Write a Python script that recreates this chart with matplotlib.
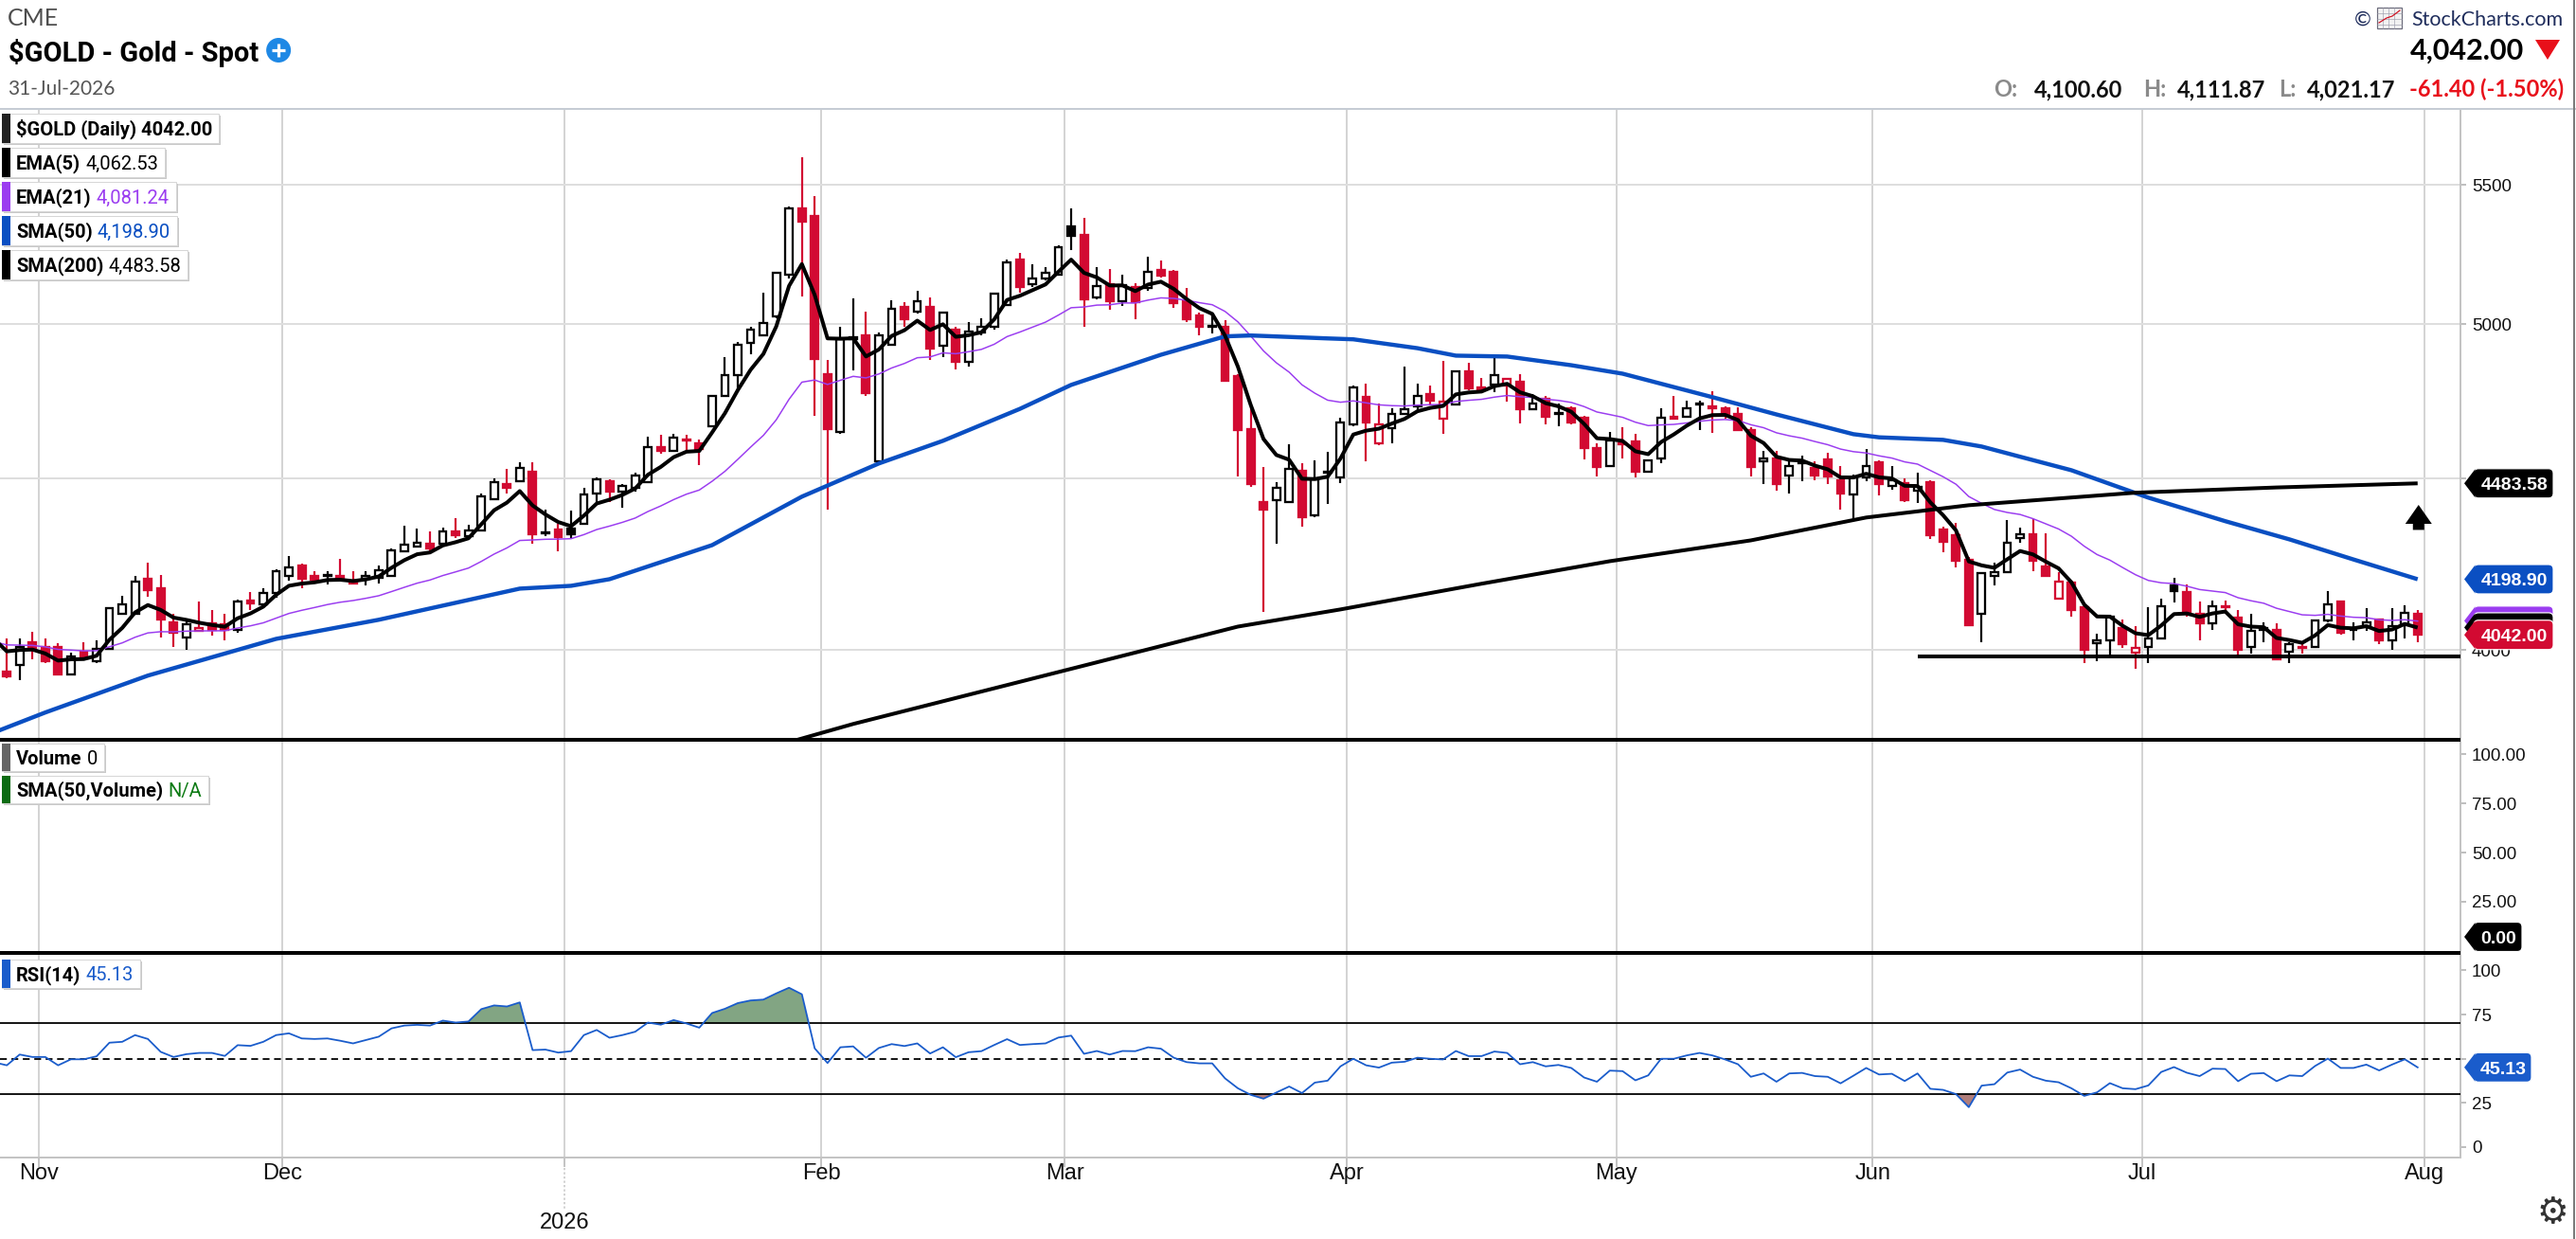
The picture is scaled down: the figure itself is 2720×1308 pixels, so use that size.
import numpy as np
import matplotlib
matplotlib.use("Agg")
import matplotlib.pyplot as plt
from matplotlib.patches import Rectangle, Polygon, FancyBboxPatch, Circle
from matplotlib.ticker import NullLocator, FixedLocator, FixedFormatter

# ---------------------------------------------------------------- data
month_labels = ["Nov", "Dec", "2026", "Feb", "Mar", "Apr", "May", "Jun", "Jul", "Aug"]
bars_per_month = [3, 19, 22, 20, 19, 22, 21, 20, 21, 22]   # Oct(partial) .. Jul

opens = [3941,3959,4021,4008,4008,3933,3997,3969,4003,4102,
         4102,4199,4172,4076,4036,4052,4073,4071,4057,4137,
         4127,4159,4208,4238,4208,4208,4208,4191,4199,4202,
         4208,4279,4295,4301,4301,4338,4324,4341,4434,4480,
         4489,4518,4332,4344,4346,4360,4452,4489,4457,4471,
         4486,4595,4583,4619,4607,4661,4759,4827,4935,4960,
         5025,5170,5413,5382,4830,4643,4948,4961,4553,4928,
         5058,5041,5058,4925,4980,4871,4970,4992,5064,5224,
         5137,5157,5173,5347,5316,5091,5137,5077,5127,5124,
         5187,5180,5077,5028,4992,4989,4824,4652,4428,4431,
         4428,4521,4386,4515,4501,4667,4756,4607,4655,4703,
         4725,4765,4685,4731,4840,4787,4796,4793,4805,4716,
         4750,4703,4719,4688,4592,4536,4607,4613,4518,4562,
         4694,4694,4731,4725,4719,4703,4649,4553,4562,4507,
         4547,4530,4559,4492,4449,4501,4550,4477,4483,4460,
         4486,4344,4326,4256,4100,4208,4218,4318,4329,4235,
         4143,4189,4118,4018,4026,4060,3992,4010,4031,4180,
         4162,4100,4073,4121,4089,4008,4057,4057,3995,4008,
         4010,4081,4135,4055,4065,4084,4026,4071,4100.60]
highs = [4031,4031,4050,4031,4018,3992,4023,4028,4118,4151,
         4208,4248,4210,4100,4084,4135,4110,4102,4140,4162,
         4172,4227,4265,4243,4221,4221,4259,4221,4221,4238,
         4287,4355,4346,4338,4349,4377,4358,4452,4498,4527,
         4550,4550,4403,4360,4400,4469,4501,4495,4480,4515,
         4628,4634,4637,4634,4619,4762,4887,4938,4989,5107,
         5183,5420,5606,5456,4880,4989,5087,5041,4970,5081,
         5074,5114,5091,5044,4992,5008,5021,5107,5227,5248,
         5210,5200,5275,5413,5378,5200,5193,5173,5140,5234,
         5221,5187,5124,5038,5038,5012,4830,4728,4533,4486,
         4604,4547,4556,4580,4688,4793,4799,4734,4719,4855,
         4799,4793,4874,4843,4868,4818,4887,4818,4830,4765,
         4759,4734,4725,4697,4607,4643,4658,4637,4559,4719,
         4759,4746,4746,4775,4725,4722,4658,4583,4583,4559,
         4568,4553,4577,4536,4512,4589,4556,4536,4498,4515,
         4492,4352,4363,4262,4218,4246,4372,4349,4375,4332,
         4218,4194,4121,4044,4097,4084,4065,4118,4143,4202,
         4183,4135,4137,4137,4110,4100,4078,4073,4021,4021,
         4084,4164,4137,4078,4116,4086,4116,4124,4111.87]
lows = [3923,3918,3974,3964,3931,3931,3974,3966,4000,4100,
        4100,4148,4034,4008,4000,4050,4039,4026,4047,4110,
        4124,4145,4194,4172,4186,4183,4191,4183,4180,4186,
        4205,4276,4290,4276,4298,4318,4318,4338,4431,4452,
        4486,4303,4324,4279,4315,4358,4428,4428,4408,4457,
        4483,4574,4580,4583,4541,4658,4756,4780,4899,4960,
        5021,5157,5094,4697,4405,4637,4843,4759,4550,4928,
        4992,5035,4877,4887,4846,4858,4960,4980,5061,5107,
        5127,5150,5167,5258,4989,5084,5048,5061,5015,5114,
        5160,5054,5008,4961,4967,4805,4504,4474,4105,4303,
        4425,4352,4380,4420,4483,4661,4553,4601,4607,4700,
        4713,4731,4637,4728,4777,4771,4771,4740,4670,4713,
        4667,4661,4667,4559,4506,4533,4562,4501,4515,4547,
        4682,4688,4649,4640,4685,4646,4504,4480,4462,4452,
        4489,4492,4480,4403,4372,4489,4446,4465,4428,4425,
        4315,4276,4232,4066,4023,4180,4216,4306,4221,4205,
        4140,4094,3964,3969,3984,4005,3949,3964,4029,4132,
        4094,4026,4057,4100,3987,3990,4021,3972,3966,3990,
        4005,4078,4042,4026,4052,4016,4000,4031,4021.17]
closes = [3928,4008,4004,3969,3933,3982,3977,4003,4116,4127,
          4191,4167,4084,4047,4071,4060,4057,4055,4135,4129,
          4159,4221,4232,4199,4197,4210,4199,4186,4208,4224,
          4282,4298,4306,4287,4338,4326,4341,4443,4486,4471,
          4530,4329,4335,4321,4329,4449,4495,4457,4477,4507,
          4595,4583,4625,4616,4589,4759,4827,4928,4980,5005,
          5177,5413,5364,4883,4652,4948,4954,4768,4960,5051,
          5018,5077,4916,5038,4871,4973,4992,5104,5217,5127,
          5157,5177,5271,5312,5084,5130,5077,5134,5074,5183,
          5167,5071,5015,4992,4995,4811,4649,4480,4403,4471,
          4527,4380,4495,4518,4673,4787,4673,4667,4703,4716,
          4759,4743,4740,4840,4784,4780,4827,4815,4716,4734,
          4691,4706,4673,4592,4533,4616,4604,4518,4556,4688,
          4685,4719,4734,4719,4700,4649,4533,4562,4480,4536,
          4550,4507,4504,4452,4501,4536,4480,4492,4431,4474,
          4326,4309,4251,4068,4216,4218,4306,4329,4251,4208,
          4191,4110,4000,4026,4092,4016,4005,4031,4121,4164,
          4105,4073,4121,4118,4000,4052,4060,3974,4016,4005,
          4081,4127,4047,4057,4078,4026,4065,4103.40,4042.00]
prior_close = 4000.0          # close of the bar before the first one shown
ema5_seed = 4031.0            # EMA values just left of the first bar
ema21_seed = 4023.0

sma50_idx = [-1, 3, 11, 21, 29, 40, 44, 47, 55, 62, 68, 73, 79, 83, 90, 95, 97, 103,
             105, 110, 113, 117, 122, 126, 133, 138, 144, 146, 151, 154, 157, 161,
             167, 173, 178, 183, 188]
sma50_val = [3781, 3833, 3931, 4031, 4084, 4172, 4180, 4199, 4298, 4443, 4545, 4616,
             4718, 4796, 4896, 4958, 4961, 4951, 4948, 4918, 4893, 4890, 4861, 4833,
             4756, 4700, 4637, 4627, 4619, 4598, 4566, 4524, 4440, 4369, 4315, 4256,
             4198.90]
sma200_idx = [61, 66, 80, 96, 104, 115, 125, 136, 145, 153, 166, 177, 188]
sma200_val = [3756, 3803, 3923, 4065, 4113, 4186, 4251, 4312, 4380, 4417, 4455, 4471,
              4483.58]

rsi_start = -1
rsi_vals = [48.0,
            46.3,52.4,51.0,51.0,46.3,49.7,49.7,51.4,59.1,59.6,
            63.4,61.2,53.9,51.0,52.6,53.3,53.3,51.6,57.7,57.3,
            59.6,63.4,64.4,61.5,61.2,61.5,60.2,58.7,60.6,62.5,
            67.2,68.8,69.2,68.8,71.6,70.5,71.1,78.1,80.2,79.6,
            81.9,54.9,55.2,53.5,54.3,63.4,66.3,61.9,63.4,65.3,
            70.5,69.3,71.9,70.0,67.6,75.9,78.3,81.5,83.0,83.5,
            87.0,90.2,86.5,55.9,47.6,56.5,57.0,50.6,56.1,58.3,
            57.2,58.7,53.0,56.5,50.9,53.7,54.3,57.8,61.1,57.8,
            58.3,58.7,62.0,63.1,52.8,54.4,52.4,54.4,54.3,56.5,
            55.7,50.6,48.1,47.4,47.4,38.9,33.3,29.6,27.4,30.9,
            34.3,30.6,36.5,37.6,45.7,50.0,46.3,45.0,47.8,48.3,
            50.6,50.0,49.6,54.4,51.5,51.5,54.1,53.3,46.9,48.1,
            45.7,46.5,44.8,39.4,37.0,43.3,43.0,37.8,40.6,50.0,
            50.0,51.9,53.3,51.9,49.6,46.9,39.8,41.7,37.0,41.7,
            42.0,40.2,39.8,36.1,40.4,44.8,41.1,41.5,37.4,41.7,
            33.0,32.4,30.0,22.6,34.8,35.6,42.2,43.9,39.8,37.6,
            36.7,33.3,29.0,31.0,36.2,33.3,32.8,34.9,42.5,45.3,
            42.1,40.2,44.4,44.2,37.3,41.5,41.9,37.3,40.6,40.2,
            45.9,50.1,44.8,44.8,46.7,43.4,46.7,49.7,45.13]

support_level = 3983.0
support_start = 149
arrow_range = [4343.0, 4418.0]

last_close = 4042.00
ema5_last, ema21_last, sma50_last, sma200_last = 4062.53, 4081.24, 4198.90, 4483.58
rsi_last, volume_last = 45.13, 0.00
price_ticks = [4000, 4500, 5000, 5500]
price_tick_labels = ['4000', '', '5000', '5500']     # 4500 sits under the SMA(200) tag
volume_ticks = [25, 50, 75, 100]
rsi_ticks = [0, 25, 50, 75, 100]
rsi_tick_labels = ['0', '25', '', '75', '100']       # 50 sits under the RSI tag

# ---------------------------------------------------------------- style
W, H, DPI = 2720, 1308, 100
PT = 72.0 / DPI
RED = '#d20a32'
PURPLE = '#9b3df0'
BLUE = '#0a4fc2'
RSI_BLUE = '#1a5ccb'
GRID = '#d4d4d4'
AXG = '#c4c4c4'
COND = ['Roboto', 'DejaVu Sans']
SANS = ['Liberation Sans', 'DejaVu Sans']
LATO = ['Lato', 'DejaVu Sans']

fig = plt.figure(figsize=(W / DPI, H / DPI), dpi=DPI)
fig.patch.set_facecolor('white')


def rect(x0, y0, x1, y1):
    return [x0 / W, 1 - y1 / H, (x1 - x0) / W, (y1 - y0) / H]


AXR = 2598
P_TOP, P_BOT, V_BOT, R_BOT = 116, 781, 1006, 1222
ax_p = fig.add_axes(rect(0, P_TOP, AXR, P_BOT))
ax_v = fig.add_axes(rect(0, P_BOT, AXR, V_BOT))
ax_r = fig.add_axes(rect(0, V_BOT, AXR, R_BOT))

n = len(closes)
XMIN, XMAX = -0.532, 191.34
bounds = np.cumsum(bars_per_month) - 0.5

for ax in (ax_p, ax_v, ax_r):
    ax.set_xlim(XMIN, XMAX)
    ax.set_facecolor('white')
    for s in ('top', 'left', 'bottom'):
        ax.spines[s].set_visible(False)
    ax.spines['right'].set_color(AXG)
    ax.spines['right'].set_linewidth(2 * PT)
    ax.set_xticks([])
    for b in bounds:
        ax.axvline(b, color=GRID, lw=2 * PT, zorder=0)
    ax.yaxis.tick_right()
    ax.tick_params(axis='y', which='major', right=True, left=False, labelright=True,
                   labelleft=False, length=6 * PT, width=1.5 * PT, color='#aaaaaa',
                   pad=6 * PT, labelsize=13.5, labelcolor='#111111',
                   labelfontfamily=SANS)
    ax.yaxis.set_minor_locator(NullLocator())
ax_r.spines['bottom'].set_visible(True)
ax_r.spines['bottom'].set_color(AXG)
ax_r.spines['bottom'].set_linewidth(2 * PT)

# ---------------- price panel
ax_p.set_yscale('log')
ax_p.set_ylim(3762, 5789)
ax_p.yaxis.set_major_locator(FixedLocator(price_ticks))
ax_p.yaxis.set_major_formatter(FixedFormatter(price_tick_labels))
ax_p.yaxis.set_minor_locator(NullLocator())
for v in price_ticks:
    ax_p.axhline(v, color='#dedede', lw=2 * PT, zorder=0)

prev = [prior_close] + closes[:-1]
for i in range(n):
    o, h, l, c = opens[i], highs[i], lows[i], closes[i]
    col = 'black' if c >= prev[i] else RED
    hollow = c > o
    ax_p.plot([i, i], [l, h], color=col, lw=2.2 * PT, solid_capstyle='butt', zorder=3)
    ax_p.add_patch(Rectangle((i - 0.29, min(o, c)), 0.58, max(abs(c - o), 0.01),
                             facecolor='white' if hollow else col, edgecolor=col,
                             lw=2.3 * PT, zorder=4))


def ema(vals, span, seed):
    a = 2.0 / (span + 1)
    e = seed
    out = [seed]
    for v in vals:
        e = e + a * (v - e)
        out.append(e)
    return np.array(out)


ex = np.arange(-1, n)
ax_p.plot(ex, ema(closes, 21, ema21_seed), color=PURPLE, lw=1.5 * PT, zorder=5)
ax_p.plot(sma50_idx, sma50_val, color=BLUE, lw=4.4 * PT, zorder=5,
          solid_joinstyle='round', solid_capstyle='butt')
ax_p.plot(sma200_idx, sma200_val, color='black', lw=4.0 * PT, zorder=5,
          solid_joinstyle='round', solid_capstyle='butt')
ax_p.plot(ex, ema(closes, 5, ema5_seed), color='black', lw=4.0 * PT, zorder=6,
          solid_joinstyle='round', solid_capstyle='butt')
ax_p.plot([support_start, XMAX], [support_level, support_level], color='black',
          lw=4.0 * PT, zorder=6, solid_capstyle='butt')

# ---------------- volume panel
ax_v.set_ylim(-1.06, 107.4)
ax_v.yaxis.set_major_locator(FixedLocator(volume_ticks))
ax_v.yaxis.set_major_formatter(FixedFormatter(['%.2f' % v for v in volume_ticks]))

# ---------------- RSI panel
ax_r.set_ylim(-5.9, 109.9)
ax_r.yaxis.set_major_locator(FixedLocator(rsi_ticks))
ax_r.yaxis.set_major_formatter(FixedFormatter(rsi_tick_labels))
rx = np.arange(rsi_start, rsi_start + len(rsi_vals))
r = np.array(rsi_vals)
ax_r.fill_between(rx, r, 70, where=r > 70, interpolate=True, color='#82a583', lw=0,
                  zorder=2)
ax_r.fill_between(rx, r, 30, where=r < 30, interpolate=True, color='#b07d7a', lw=0,
                  zorder=2)
ax_r.axhline(70, color='black', lw=1.8 * PT, zorder=3)
ax_r.axhline(30, color='black', lw=1.8 * PT, zorder=3)
ax_r.axhline(50, color='black', lw=1.8 * PT, zorder=3, linestyle=(0, (4.0, 2.7)))
ax_r.plot(rx, r, color=RSI_BLUE, lw=1.8 * PT, zorder=4)

# ---------------------------------------------------------------- overlay
ov = fig.add_axes([0, 0, 1, 1], zorder=20)
ov.set_xlim(0, W)
ov.set_ylim(H, 0)
ov.axis('off')
ov.patch.set_alpha(0)
renderer = fig.canvas.get_renderer()


def py(ax, val):
    return H - ax.transData.transform((0, val))[1]


def px(ax, i):
    return ax.transData.transform((i, 1 if ax is not ax_p else 4000))[0]


# frame lines
ov.plot([0, W], [115, 115], color='#c6ccd4', lw=2 * PT, zorder=1)
ov.plot([0, AXR], [P_BOT, P_BOT], color='black', lw=4 * PT, zorder=2,
        solid_capstyle='butt')
ov.plot([0, AXR], [V_BOT, V_BOT], color='black', lw=4 * PT, zorder=2,
        solid_capstyle='butt')
ov.plot([2718, 2718], [0, H], color='#7a7a7a', lw=2 * PT, zorder=1)

# month labels / ticks
for b, lab in zip(bounds, month_labels):
    xb = px(ax_r, b)
    ov.plot([xb, xb], [R_BOT, R_BOT + 9], color=AXG, lw=2 * PT, zorder=1)
    if lab == '2026':
        ov.plot([xb, xb], [R_BOT + 11, 1276], color=AXG, lw=1.5 * PT, zorder=1,
                linestyle=(0, (1.5, 1.5)))
        ov.text(xb, 1297, lab, ha='center', va='baseline', fontsize=17,
                family=SANS, color='#111111')
    else:
        ov.text(xb, 1245, lab, ha='center', va='baseline', fontsize=17,
                family=SANS, color='#111111')

# right-hand value tags (each one stacked above the previous)
tag_z = [10]


def tag(yc, x1, color, text, h=31):
    x0, tip = 2602, 10
    z = tag_z[0]
    tag_z[0] += 3
    ov.add_patch(FancyBboxPatch((x0 + tip, yc - h / 2), x1 - x0 - tip, h,
                                boxstyle='round,pad=0,rounding_size=5', fc=color,
                                ec='white', lw=1.2 * PT, zorder=z))
    ov.add_patch(Polygon([(x0, yc), (x0 + tip + 1.5, yc - h / 2 + 0.5),
                          (x0 + tip + 1.5, yc + h / 2 - 0.5)], closed=True, fc=color,
                         ec='none', zorder=z + 1))
    if text:
        ov.text((x0 + tip + x1) / 2 + 1, yc + 7, text, color='white', fontsize=14,
                fontweight='bold', family=SANS, ha='center', va='baseline',
                zorder=z + 2)


# the EMA tags are covered by the close tag, so only their coloured edges show
tag(py(ax_p, ema21_last), 2696, PURPLE, '')
tag(py(ax_p, ema5_last), 2696, 'black', '')
tag(py(ax_p, last_close), 2696, RED, '%.2f' % last_close)
tag(py(ax_p, sma50_last), 2696, BLUE, '%.2f' % sma50_last)
tag(py(ax_p, sma200_last), 2696, 'black', '%.2f' % sma200_last)
tag(min(py(ax_v, volume_last), V_BOT - 17), 2663, 'black', '%.2f' % volume_last)
tag(py(ax_r, rsi_last), 2673, RSI_BLUE, '%.2f' % rsi_last)

# up arrow
xa = px(ax_p, n - 1) + 1
yt, yb = py(ax_p, arrow_range[1]), py(ax_p, arrow_range[0])
ov.add_patch(Polygon([(xa, yt), (xa + 14, yt + 20), (xa + 6, yt + 20), (xa + 6, yb),
                      (xa - 6, yb), (xa - 6, yt + 20), (xa - 14, yt + 20)],
                     closed=True, fc='black', ec='none', zorder=8))


# legend boxes
def legend_box(ytop, bar_color, parts, h=31, fs=14.5):
    x = 17
    base = ytop + h / 2 + 0.36 * fs / PT
    for s, c, wgt in parts:
        t = ov.text(x, base, s, color=c, fontsize=fs, fontweight=wgt, family=COND,
                    ha='left', va='baseline', zorder=31)
        x += t.get_window_extent(renderer=renderer).width + 5
    right = x + 2
    ov.add_patch(Rectangle((4, ytop + 2), right - 2, h, fc='#c9c9c9', ec='none',
                           zorder=28))
    ov.add_patch(Rectangle((2, ytop), right - 2, h, fc='white', ec='#d6d6d6',
                           lw=1 * PT, zorder=29))
    ov.add_patch(Rectangle((2, ytop), 9, h, fc=bar_color, ec='none', zorder=30))


legend_box(120, '#222222', [('$GOLD (Daily) %.2f' % last_close, 'black', 'bold')])
legend_box(156, 'black', [('EMA(5)', 'black', 'bold'), ('4,062.53', 'black', 'normal')])
legend_box(192, PURPLE, [('EMA(21)', 'black', 'bold'), ('4,081.24', PURPLE, 'normal')])
legend_box(228, BLUE, [('SMA(50)', 'black', 'bold'), ('4,198.90', BLUE, 'normal')])
legend_box(264, 'black', [('SMA(200)', 'black', 'bold'), ('4,483.58', 'black', 'normal')])
legend_box(785, '#666666', [('Volume', 'black', 'bold'), ('0', 'black', 'normal')], h=29)
legend_box(819, '#0b6b12', [('SMA(50,Volume)', 'black', 'bold'),
                            ('N/A', '#0b7a12', 'normal')], h=29)
legend_box(1013, RSI_BLUE, [('RSI(14)', 'black', 'bold'), ('45.13', RSI_BLUE, 'normal')],
           h=30)

# header
ov.text(8, 27, 'CME', fontsize=18, family=LATO, color='#4d4d4d', va='baseline')
tt = ov.text(9, 65, '$GOLD - Gold - Spot', fontsize=21, fontweight='bold', family=COND,
             color='black', va='baseline')
tx_end = 9 + tt.get_window_extent(renderer=renderer).width
cx = tx_end + 21
ov.add_patch(Circle((cx, 53), 13, fc='#1e88e5', ec='none', zorder=5))
ov.plot([cx - 7, cx + 7], [53, 53], color='white', lw=3.2 * PT, zorder=6,
        solid_capstyle='butt')
ov.plot([cx, cx], [46, 60], color='white', lw=3.2 * PT, zorder=6, solid_capstyle='butt')
ov.text(8, 100, '31-Jul-2026', fontsize=15, family=LATO, color='#555555', va='baseline')

ov.text(2706, 27, 'StockCharts.com', fontsize=15.5, family=LATO, color='#1f2d5c',
        ha='right', va='baseline')
ov.text(2504, 27, '\u00a9', fontsize=15.5, family=LATO, color='#1f2d5c', ha='right',
        va='baseline')
ov.add_patch(Rectangle((2510, 8), 26, 22, fc='#f2f2f2', ec='#6b6b7b', lw=1.2 * PT,
                       zorder=5))
for gx in (2516, 2522, 2528):
    ov.plot([gx, gx], [8, 30], color='#9a9aaa', lw=0.6 * PT, zorder=6)
for gy in (14, 20, 26):
    ov.plot([2510, 2536], [gy, gy], color='#9a9aaa', lw=0.6 * PT, zorder=6)
ov.plot([2512, 2520, 2526, 2534], [24, 19, 17, 11], color='#d01020', lw=1.2 * PT,
        zorder=7)

ov.text(2665, 63, '4,042.00', fontsize=22, fontweight='bold', family=LATO,
        color='black', ha='right', va='baseline')
ov.add_patch(Polygon([(2677, 42), (2703, 42), (2690, 63)], closed=True, fc='#e8101a',
                     ec='none'))
for s, xr, c in [('O:', 2130, '#8a8a8a'), ('4,100.60', 2241, '#111111'),
                 ('H:', 2287, '#8a8a8a'), ('4,111.87', 2392, '#111111'),
                 ('L:', 2425, '#8a8a8a'), ('4,021.17', 2529, '#111111'),
                 ('-61.40 (-1.50%)', 2707, '#e8101a')]:
    ov.text(xr, 102, s, fontsize=17, fontweight='bold', family=LATO, color=c,
            ha='right', va='baseline')

ov.text(2695, 1281, '\u2699', fontsize=27, family=['DejaVu Sans'], color='#333333',
        ha='center', va='center')

fig.savefig('out.png', dpi=DPI, facecolor='white')
